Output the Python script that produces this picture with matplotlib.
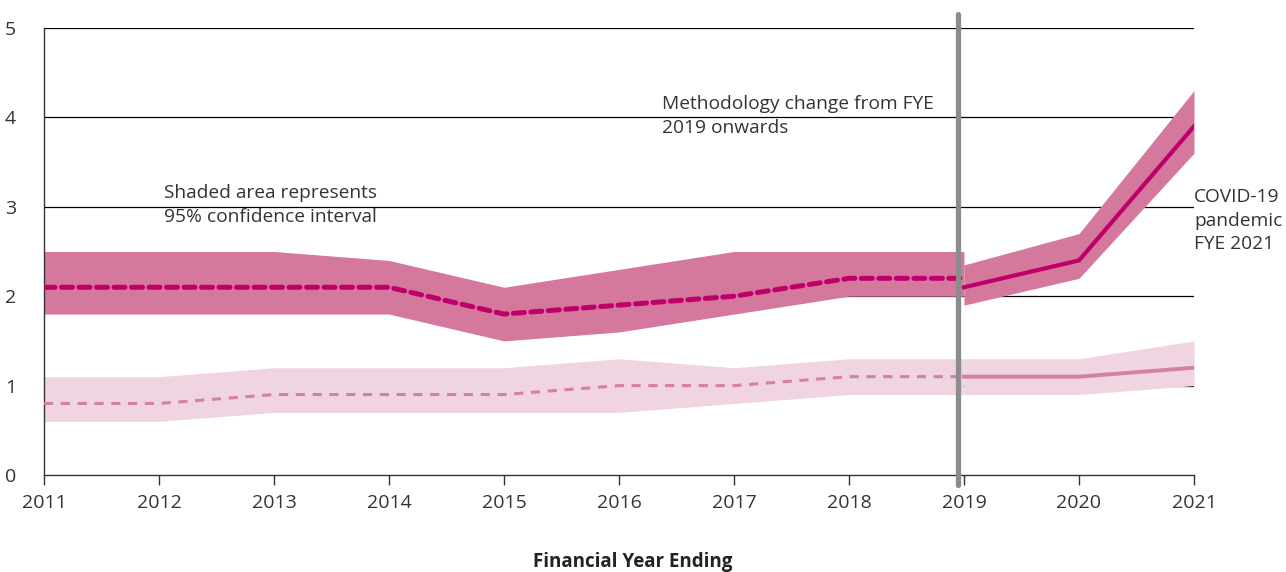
import numpy as np
import matplotlib
matplotlib.use("Agg")
import matplotlib.pyplot as plt

plt.rcParams['font.family'] = ['Open Sans', 'DejaVu Sans']

# years and values, old methodology (dashed) up to 2019
years_old = [2011, 2012, 2013, 2014, 2015, 2016, 2017, 2018, 2019]
dark_old = [2.1, 2.1, 2.1, 2.1, 1.8, 1.9, 2.0, 2.2, 2.2]
dark_old_hi = [2.5, 2.5, 2.5, 2.4, 2.1, 2.3, 2.5, 2.5, 2.5]
dark_old_lo = [1.8, 1.8, 1.8, 1.8, 1.5, 1.6, 1.8, 2.0, 2.0]
light_old = [0.8, 0.8, 0.9, 0.9, 0.9, 1.0, 1.0, 1.1, 1.1]
light_old_hi = [1.1, 1.1, 1.2, 1.2, 1.2, 1.3, 1.2, 1.3, 1.3]
light_old_lo = [0.6, 0.6, 0.7, 0.7, 0.7, 0.7, 0.8, 0.9, 0.9]

# new methodology (solid) from 2019
years_new = [2019, 2020, 2021]
dark_new = [2.1, 2.4, 3.9]
dark_new_hi = [2.35, 2.7, 4.3]
dark_new_lo = [1.9, 2.2, 3.6]
light_new = [1.1, 1.1, 1.2]
light_new_hi = [1.3, 1.3, 1.5]
light_new_lo = [0.9, 0.9, 1.0]

dark_line = "#C0006A"
dark_band = "#D4789E"
light_line = "#D47FA6"
light_band = "#F0D4E1"
txt = "#333333"

fig = plt.figure(figsize=(12.86, 5.72), dpi=100)
ax = fig.add_axes([44/1286, 1-475/572, 1150/1286, 447/572])

for y in [1, 2, 3, 4, 5]:
    ax.axhline(y, color="black", lw=0.9, zorder=1)

ax.fill_between(years_old, light_old_lo, light_old_hi, color=light_band, lw=0, zorder=2)
ax.fill_between(years_new, light_new_lo, light_new_hi, color=light_band, lw=0, zorder=2)
ax.fill_between(years_old, dark_old_lo, dark_old_hi, color=dark_band, lw=0, zorder=2)
ax.fill_between(years_new, dark_new_lo, dark_new_hi, color=dark_band, lw=0, zorder=2)

ax.plot(years_old, light_old, color=light_line, lw=2.2, ls=(0, (3, 2.5)), zorder=3)
ax.plot(years_new, light_new, color=light_line, lw=2.8, zorder=3)
ax.plot(years_old, dark_old, color=dark_line, lw=3.6, ls=(0, (2.2, 1.3)),
        dash_capstyle="round", zorder=4)
ax.plot(years_new, dark_new, color=dark_line, lw=3.0, zorder=4)

# methodology break marker
ax.plot([2018.95, 2018.95], [-0.11, 5.16], color="#8C8C8C", lw=3.8,
        solid_capstyle="round", clip_on=False, zorder=5)

note = dict(fontsize=13.8, color=txt, va="top", ha="left", linespacing=1.4)
ax.text(2012.04, 3.25, "Shaded area represents\n95% confidence interval", **note)
ax.text(2016.37, 4.25, "Methodology change from FYE\n2019 onwards", **note)
ax.text(2021.0, 3.21, "COVID-19\npandemic\nFYE 2021", **note)

ax.set_xlim(2011, 2021)
ax.set_ylim(0, 5)
ax.set_xticks(range(2011, 2022))
ax.set_yticks(range(0, 6))
ax.tick_params(axis="x", length=7, width=1, color=txt, labelsize=14,
               labelcolor=txt, pad=7)
ax.tick_params(axis="y", length=0, labelsize=14, labelcolor=txt, pad=20)
for s in ["top", "right"]:
    ax.spines[s].set_visible(False)
for s in ["left", "bottom"]:
    ax.spines[s].set_color(txt)
    ax.spines[s].set_linewidth(1)

fig.text(633/1286, 1-562/572, "Financial Year Ending", ha="center", va="center",
         fontsize=13.5, fontweight="bold", color="#222222")

fig.savefig("out.png", dpi=100)
